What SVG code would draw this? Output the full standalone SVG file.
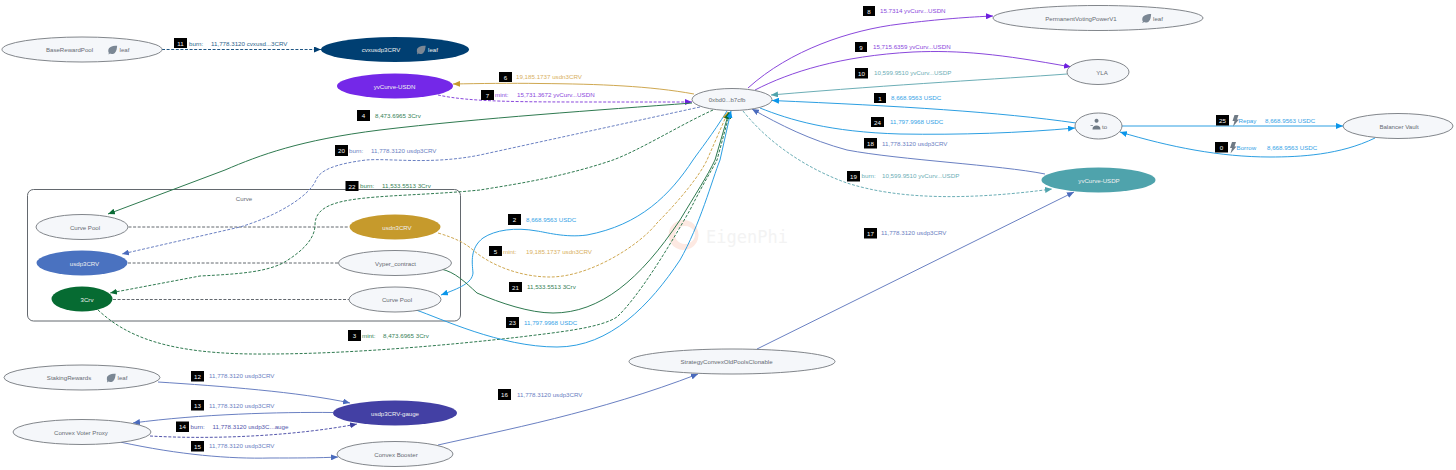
<svg xmlns="http://www.w3.org/2000/svg" width="1456" height="470" viewBox="0 0 1456 470">
<style>
text{font-family:"Liberation Sans",Arial,sans-serif;font-size:6.2px}
.n{fill:#f5f7fa;stroke:#74787e;stroke-width:.9}
.nt{fill:#666b73;text-anchor:middle;font-size:6.1px}
.wt{fill:#f0f0f0;text-anchor:middle;font-size:6.1px}
.b{fill:#000}
.bt{fill:#f4f4f4;text-anchor:middle}
.e{fill:none;stroke-width:1}
.d{stroke-dasharray:3 1.6}
.gray{stroke:#63686e}
.c1{stroke:#1f5684}.c2{stroke:#cfa851}.c3{stroke:#8a48dc}.c4{stroke:#2f7a50}.c5{stroke:#6a80c2}.c6{stroke:#2c9fe2}.c7{stroke:#6caeb6}.c8{stroke:#5355ab}
.t1{fill:#2a5f8c}.t2{fill:#d8b061}.t3{fill:#8a48dc}.t4{fill:#357f56}.t5{fill:#6a80c2}.t6{fill:#35a3e6}.t7{fill:#6caeb6}.t8{fill:#5355ab}
.ic{fill:#6f7a85}
</style>
<defs>
<marker id="m1" markerWidth="8" markerHeight="6" refX="7" refY="3" orient="auto" markerUnits="userSpaceOnUse"><path d="M0,0L7,3L0,6z" fill="#003f72"/></marker>
<marker id="m2" markerWidth="8" markerHeight="6" refX="7" refY="3" orient="auto" markerUnits="userSpaceOnUse"><path d="M0,0L7,3L0,6z" fill="#c69a2c"/></marker>
<marker id="m3" markerWidth="8" markerHeight="6" refX="7" refY="3" orient="auto" markerUnits="userSpaceOnUse"><path d="M0,0L7,3L0,6z" fill="#6d1fe0"/></marker>
<marker id="m4" markerWidth="8" markerHeight="6" refX="7" refY="3" orient="auto" markerUnits="userSpaceOnUse"><path d="M0,0L7,3L0,6z" fill="#0a6b35"/></marker>
<marker id="m5" markerWidth="8" markerHeight="6" refX="7" refY="3" orient="auto" markerUnits="userSpaceOnUse"><path d="M0,0L7,3L0,6z" fill="#4a6bbd"/></marker>
<marker id="m6" markerWidth="8" markerHeight="6" refX="7" refY="3" orient="auto" markerUnits="userSpaceOnUse"><path d="M0,0L7,3L0,6z" fill="#0a96ea"/></marker>
<marker id="m7" markerWidth="8" markerHeight="6" refX="7" refY="3" orient="auto" markerUnits="userSpaceOnUse"><path d="M0,0L7,3L0,6z" fill="#4fa3ac"/></marker>
<marker id="m8" markerWidth="8" markerHeight="6" refX="7" refY="3" orient="auto" markerUnits="userSpaceOnUse"><path d="M0,0L7,3L0,6z" fill="#3d3f9f"/></marker>
<symbol id="leaf" viewBox="0 0 10 10"><path d="M10,0C5,0 0,1.500 0,6C0,7 .3,7.800 .8,8.300L0,9.600L.8,10L1.800,8.900C3,9.700 5,9.700 7,8.500C9.500,6.500 9.500,3 10,0z" fill="#7b8794"/></symbol>
</defs>
<g id="watermark">
<path fill-rule="evenodd" d="M683.500,220a15,15 0 1,0 .1,0zM685,226a10,9 0 1,1 -.1,0z" fill="#fde9e2"/>
<text x="747" y="243" style="font-family:'DejaVu Sans Mono',monospace;font-size:17px;fill:#f3f3f3;text-anchor:middle">EigenPhi</text>
</g>
<g id="group-curve"><rect x="27.500" y="189.500" width="433" height="131.500" rx="6" fill="none" stroke="#63686e" stroke-width="1"/><text class="nt" x="244" y="200.500">Curve</text></g>
<g id="connectors">
<path class="e d gray" d="M128.500,227H349"/>
<path class="e d gray" d="M128,263H338.500"/>
<path class="e d gray" d="M113,299.500H349"/>
<path class="e d c1" marker-end="url(#m1)" d="M162,49.500H321"/>
<path class="e c2" marker-end="url(#m2)" d="M694,94C650,86 600,84 540,83.500C510,83 480,83.500 453,84"/>
<path class="e d c3" marker-end="url(#m3)" d="M438,95C470,102 520,102 600,102C630,102 660,102 692,102"/>
<path class="e c4" marker-end="url(#m4)" d="M692,103C600,110 480,118 380,130C300,140 260,155 225,170L108,214"/>
<path class="e d c5" marker-end="url(#m5)" d="M700,107L480,155C430,165 390,158 366,160C335,164 320,170 316,180C310,195 280,215 240,227L122,254"/>
<path class="e d c4" marker-end="url(#m4)" d="M713,110C680,125 640,150 613,160C560,178 510,185 480,190C430,195 380,195 350,200C325,204 315,212 315,225C315,240 300,253 283,263C265,272 240,274 200,276L110,293"/>
<path class="e c6" marker-end="url(#m6)" d="M727,111C712,135 700,150 693,160C670,195 640,225 587,235C565,238 545,232 537,231C515,227 495,230 483,238C470,248 472,262 473,273C472,283 460,288 441,295"/>
<path class="e d c2" marker-end="url(#m2)" d="M438,233C455,238 465,243 473,250C490,265 520,277 550,277C590,277 640,245 657,223C680,200 700,175 707,160L728,112"/>
<path class="e c4" marker-end="url(#m4)" d="M441,269C455,272 465,282 477,293C500,303 530,313 553,313C600,313 640,280 680,220C695,195 708,175 715,160L729,112"/>
<path class="e d c4" marker-end="url(#m4)" d="M98,310C125,335 165,355 267,354C350,354 450,345 520,337C560,332 600,328 617,317C640,295 670,245 690,210C705,180 712,170 717,160L730,112"/>
<path class="e c6" marker-end="url(#m6)" d="M416,310C440,318 500,347 557,347C610,347 650,305 680,260C700,225 712,180 720,160L731,111"/>
<path class="e c3" marker-end="url(#m3)" d="M748,88C790,50 850,30 900,24C940,19 970,17 993,16"/>
<path class="e c3" marker-end="url(#m3)" d="M755,90C790,72 840,56 913,52C960,50 1000,54 1071,67"/>
<path class="e c7" marker-end="url(#m7)" d="M1067,74C1000,79 900,84 771,95"/>
<path class="e c6" marker-end="url(#m6)" d="M1076,123C1000,112 900,106 772,100.500"/>
<path class="e c6" marker-end="url(#m6)" d="M760,108C790,120 830,132 900,134C960,135 1020,133 1075,128"/>
<path class="e c5" marker-end="url(#m5)" d="M1045,174C1000,165 900,160 847,150C810,140 780,125 752,109"/>
<path class="e d c7" marker-end="url(#m7)" d="M743,111C770,145 810,170 847,183C900,200 970,200 1052,189"/>
<path class="e c6" marker-end="url(#m6)" d="M1122,126H1343"/>
<path class="e c6" marker-end="url(#m6)" d="M1375,138C1340,155 1300,157 1270,157C1220,157 1170,147 1120,132"/>
<path class="e c5" marker-end="url(#m5)" d="M757,349L1074,192"/>
<path class="e c5" marker-end="url(#m5)" d="M438,445C500,431 600,412 698,374"/>
<path class="e c5" marker-end="url(#m5)" d="M158,382C220,386 300,392 350,403"/>
<path class="e c5" marker-end="url(#m5)" d="M333,412.500C280,412 200,414 133,423"/>
<path class="e d c8" marker-end="url(#m8)" d="M150,436C220,440 300,435 357,424"/>
<path class="e c5" marker-end="url(#m5)" d="M120,442C180,455 230,459 270,458C295,458 320,458 338,457"/>
</g>
<g id="node-baserewardpool"><ellipse class="n" cx="82" cy="49.500" rx="80" ry="12.500"/><text class="nt" x="69.500" y="52">BaseRewardPool</text><use href="#leaf" x="108" y="45.500" width="9.500" height="9"/><text class="nt" x="124.500" y="52">leaf</text></g>
<g id="node-cvxusdp3crv"><ellipse cx="395" cy="49.500" rx="74" ry="12.500" fill="#003f72"/><text class="wt" x="381" y="52">cvxusdp3CRV</text><use href="#leaf" x="416.500" y="45.500" width="9.500" height="9"/><text class="wt" x="433" y="52">leaf</text></g>
<g id="node-yvcurve-usdn"><ellipse cx="395" cy="86" rx="58" ry="12.500" fill="#7428e8"/><text class="wt" x="394.500" y="88.500">yvCurve-USDN</text></g>
<g id="node-0xbd0"><ellipse class="n" cx="732" cy="99.500" rx="40" ry="11"/><text class="nt" x="727" y="102">0xbd0...b7cfb</text></g>
<g id="node-permanent"><ellipse class="n" cx="1098" cy="18" rx="105" ry="12.500"/><text class="nt" x="1081" y="20.500">PermanentVotingPowerV1</text><use href="#leaf" x="1142" y="14" width="9.500" height="9"/><text class="nt" x="1158" y="20.500">leaf</text></g>
<g id="node-yla"><ellipse class="n" cx="1098" cy="72" rx="31" ry="12.500"/><text class="nt" x="1102" y="75">YLA</text></g>
<g id="node-to"><ellipse class="n" cx="1098.500" cy="126" rx="23.500" ry="13"/><path class="ic" d="M1096.500,122.800a2,2 0 1,1 .1,0zM1092.500,129.500c0,-3 1.500,-4 4,-4s4,1 4,4zM1090.500,125h2.500v.8h-2.500z"/><text class="nt" x="1104.500" y="128.500">to</text></g>
<g id="node-balancer"><ellipse class="n" cx="1398" cy="126" rx="55" ry="12.500"/><text class="nt" x="1399" y="128.500">Balancer Vault</text></g>
<g id="node-yvcurve-usdp"><ellipse cx="1098.500" cy="180" rx="57" ry="12.500" fill="#4fa3ac"/><text class="wt" x="1099" y="183">yvCurve-USDP</text></g>
<g id="node-curve-pool-1"><ellipse class="n" cx="82" cy="227" rx="46" ry="12.500"/><text class="nt" x="85" y="229.500">Curve Pool</text></g>
<g id="node-usdp3crv"><ellipse cx="82" cy="263" rx="45.500" ry="12.500" fill="#4a72c0"/><text class="wt" x="84.500" y="266">usdp3CRV</text></g>
<g id="node-3crv"><ellipse cx="82" cy="299" rx="30.500" ry="12.500" fill="#066b32"/><text class="wt" x="87" y="302">3Crv</text></g>
<g id="node-usdn3crv"><ellipse cx="395" cy="227" rx="45.500" ry="12.500" fill="#c69a2c"/><text class="wt" x="397" y="229.500">usdn3CRV</text></g>
<g id="node-vyper"><ellipse class="n" cx="395" cy="263" rx="56.500" ry="12.500"/><text class="nt" x="395.500" y="266">Vyper_contract</text></g>
<g id="node-curve-pool-2"><ellipse class="n" cx="395" cy="299.500" rx="46" ry="12.500"/><text class="nt" x="397" y="302">Curve Pool</text></g>
<g id="node-stakingrewards"><ellipse class="n" cx="82" cy="377.500" rx="78" ry="12.500"/><text class="nt" x="69" y="380">StakingRewards</text><use href="#leaf" x="106.500" y="373.500" width="9.500" height="9"/><text class="nt" x="122.500" y="380">leaf</text></g>
<g id="node-gauge"><ellipse cx="395" cy="413" rx="62" ry="12.500" fill="#4340a4"/><text class="wt" x="395" y="416">usdp3CRV-gauge</text></g>
<g id="node-voter"><ellipse class="n" cx="82" cy="432" rx="69" ry="12.500"/><text class="nt" x="81" y="434.500">Convex Voter Proxy</text></g>
<g id="node-booster"><ellipse class="n" cx="395" cy="454" rx="58" ry="12.500"/><text class="nt" x="396" y="456.500">Convex Booster</text></g>
<g id="node-strategy"><ellipse class="n" cx="732" cy="361.500" rx="103" ry="12.500"/><text class="nt" x="726.500" y="364">StrategyConvexOldPoolsClonable</text></g>
<g id="labels">
<g><rect class="b" x="174" y="38" width="13" height="10"/><text class="bt" x="180.500" y="45.500">11</text><text class="t1" x="189" y="45.500">burn:</text><text class="t1" x="211" y="45.500">11,778.3120 cvxusd...3CRV</text></g>
<g><rect class="b" x="499" y="72" width="13" height="10"/><text class="bt" x="505.500" y="79.500">6</text><text class="t2" x="516" y="79">19,185.1737 usdn3CRV</text></g>
<g><rect class="b" x="481" y="90" width="13" height="10"/><text class="bt" x="487.500" y="97.500">7</text><text class="t3" x="495" y="97">mint:</text><text class="t3" x="517" y="97">15,731.3672 yvCurv...USDN</text></g>
<g><rect class="b" x="357" y="110" width="13" height="11"/><text class="bt" x="363.500" y="118">4</text><text class="t4" x="375" y="118">8,473.6965 3Crv</text></g>
<g><rect class="b" x="335" y="145" width="13" height="11"/><text class="bt" x="341.500" y="153">20</text><text class="t5" x="349" y="153">burn:</text><text class="t5" x="371" y="153">11,778.3120 usdp3CRV</text></g>
<g><rect class="b" x="345.500" y="181" width="13" height="10"/><text class="bt" x="352" y="188.500">22</text><text class="t4" x="360" y="188">burn:</text><text class="t4" x="382" y="188">11,533.5513 3Crv</text></g>
<g><rect class="b" x="508" y="214" width="13" height="11"/><text class="bt" x="514.500" y="222">2</text><text class="t6" x="526" y="222">8,668.9563 USDC</text></g>
<g><rect class="b" x="489" y="246" width="13" height="10"/><text class="bt" x="495.500" y="253.500">5</text><text class="t2" x="503" y="253.500">mint:</text><text class="t2" x="526" y="253.500">19,185.1737 usdn3CRV</text></g>
<g><rect class="b" x="509" y="282" width="13" height="10"/><text class="bt" x="515.500" y="289.500">21</text><text class="t4" x="527" y="289">11,533.5513 3Crv</text></g>
<g><rect class="b" x="506" y="317" width="13" height="11"/><text class="bt" x="512.500" y="325">23</text><text class="t6" x="524" y="325">11,797.9968 USDC</text></g>
<g><rect class="b" x="348" y="330" width="13" height="11"/><text class="bt" x="354.500" y="338">3</text><text class="t4" x="362" y="337.500">mint:</text><text class="t4" x="383" y="337.500">8,473.6965 3Crv</text></g>
<g><rect class="b" x="191" y="371" width="13" height="10.500"/><text class="bt" x="197.500" y="378.500">12</text><text class="t5" x="209" y="378">11,778.3120 usdp3CRV</text></g>
<g><rect class="b" x="191" y="400" width="13" height="10.500"/><text class="bt" x="197.500" y="407.500">13</text><text class="t5" x="209" y="407.500">11,778.3120 usdp3CRV</text></g>
<g><rect class="b" x="176" y="421.500" width="13" height="10.500"/><text class="bt" x="182.500" y="429">14</text><text class="t8" x="190.500" y="429">burn:</text><text class="t8" x="212.500" y="429">11,778.3120 usdp3C...auge</text></g>
<g><rect class="b" x="191" y="441" width="13" height="10.500"/><text class="bt" x="197.500" y="448.500">15</text><text class="t5" x="209" y="448">11,778.3120 usdp3CRV</text></g>
<g><rect class="b" x="498" y="389" width="13" height="11"/><text class="bt" x="504.500" y="397">16</text><text class="t5" x="517" y="396.500">11,778.3120 usdp3CRV</text></g>
<g><rect class="b" x="864" y="228" width="13" height="10.500"/><text class="bt" x="870.500" y="235.500">17</text><text class="t5" x="881" y="235">11,778.3120 usdp3CRV</text></g>
<g><rect class="b" x="863" y="6" width="12" height="10"/><text class="bt" x="869" y="13.500">8</text><text class="t3" x="880" y="13">15.7314 yvCurv...USDN</text></g>
<g><rect class="b" x="855" y="42" width="12" height="10"/><text class="bt" x="861" y="49.500">9</text><text class="t3" x="873" y="49">15,715.6359 yvCurv...USDN</text></g>
<g><rect class="b" x="855" y="68" width="13" height="10.500"/><text class="bt" x="861.500" y="75.500">10</text><text class="t7" x="874" y="75">10,599.9510 yvCurv...USDP</text></g>
<g><rect class="b" x="874" y="93" width="12" height="10"/><text class="bt" x="880" y="100.500">1</text><text class="t6" x="891" y="100">8,668.9563 USDC</text></g>
<g><rect class="b" x="871" y="117" width="13" height="10"/><text class="bt" x="877.500" y="124.500">24</text><text class="t6" x="890" y="124">11,797.9968 USDC</text></g>
<g><rect class="b" x="864" y="138" width="13" height="10.500"/><text class="bt" x="870.500" y="146">18</text><text class="t5" x="882" y="146">11,778.3120 usdp3CRV</text></g>
<g><rect class="b" x="847" y="171" width="13" height="10.500"/><text class="bt" x="853.500" y="178.500">19</text><text class="t7" x="861.500" y="178">burn:</text><text class="t7" x="882" y="178">10,599.9510 yvCurv...USDP</text></g>
<g><rect class="b" x="1216" y="115" width="13" height="10.500"/><text class="bt" x="1222.500" y="123">25</text><path class="ic" d="M1234.500,115H1238.500L1237,119.500H1239L1233,126.500L1234.500,121H1232.500z"/><text class="t6" x="1238.500" y="123">Repay</text><text class="t6" x="1265" y="122.500">8,668.9563 USDC</text></g>
<g><rect class="b" x="1215" y="142" width="13" height="10.500"/><text class="bt" x="1221.500" y="149.500">0</text><path class="ic" d="M1232,142H1236L1234.500,146.500H1236.500L1230.500,153.500L1232,148H1230z"/><text class="t6" x="1236.500" y="149.500">Borrow</text><text class="t6" x="1267" y="149.500">8,668.9563 USDC</text></g>
</g>
</svg>
